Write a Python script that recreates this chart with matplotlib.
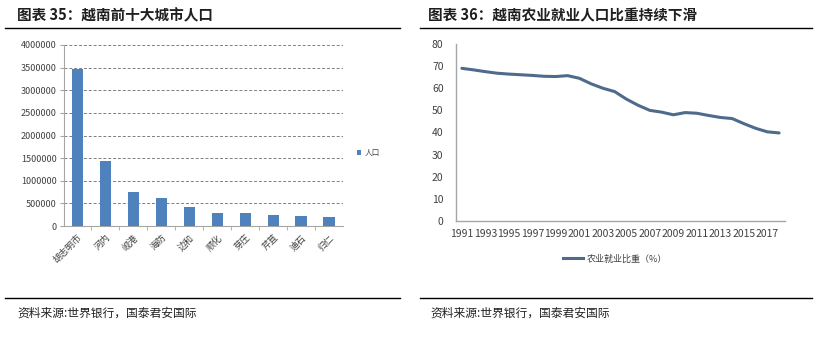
"""
越南城市人口 + 农业就业比重 双图
"""

import matplotlib
matplotlib.use("Agg")
import matplotlib.pyplot as plt
from matplotlib.lines import Line2D
from matplotlib.patches import Patch
from matplotlib.ticker import StrMethodFormatter

plt.rcParams["font.family"] = ["Noto Sans CJK SC", "DejaVu Sans"]

# --- 数据 ---
cities = ["胡志明市", "河内", "岘港", "海防", "边和", "顺化", "芽庄", "芹苴", "迪石", "归仁"]
city_pop = [3470000, 1440000, 760000, 610000, 410000, 280000, 280000, 250000, 220000, 200000]

years = list(range(1991, 2019))
agri_share = [69.0, 68.3, 67.5, 66.8, 66.4, 66.1, 65.8, 65.4, 65.3, 65.7,
              64.5, 62.0, 60.0, 58.5, 55.1, 52.3, 50.0, 49.2, 48.0, 49.0,
              48.7, 47.7, 46.8, 46.3, 44.0, 41.9, 40.3, 39.8]

BAR_COLOR = "#4F81BD"
LINE_COLOR = "#4E6B8C"
TICK_COLOR = "#404040"
AXIS_COLOR = "#A6A6A6"

fig = plt.figure(figsize=(8.3, 3.47), dpi=100)

# --- 标题与上下分隔线 ---
fig.text(17 / 830, 1 - 15 / 347, "图表 35：越南前十大城市人口", fontsize=10.5,
         fontweight="bold", color="#1F1F1F", va="center", ha="left")
fig.text(428 / 830, 1 - 15 / 347, "图表 36：越南农业就业人口比重持续下滑", fontsize=10.5,
         fontweight="bold", color="#1F1F1F", va="center", ha="left")
for x0, x1 in [(5, 400), (420, 812)]:
    for y in (28, 298):
        fig.add_artist(Line2D([x0 / 830, x1 / 830], [1 - y / 347, 1 - y / 347],
                              color="black", linewidth=1.0))
for x0 in (17, 430):
    fig.text(x0 / 830, 1 - 313 / 347, "资料来源:世界银行，国泰君安国际", fontsize=8.5,
             style="italic", color="#222222", va="center", ha="left")

# --- 左图：城市人口柱状图 ---
ax1 = fig.add_axes([63.5 / 830, 1 - 226 / 347, (343 - 63.5) / 830, (226 - 45) / 347])
xs = list(range(len(cities)))
ax1.bar(xs, city_pop, width=0.4, color=BAR_COLOR, zorder=3)
ax1.set_xlim(-0.5, len(cities) - 0.5)
ax1.set_ylim(0, 4000000)
ax1.set_yticks(range(0, 4000001, 500000))
ax1.yaxis.set_major_formatter(StrMethodFormatter("{x:.0f}"))
ax1.yaxis.grid(True, linestyle=(0, (3, 2)), color="#7F7F7F", linewidth=0.7, zorder=0)
ax1.set_xticks(xs)
ax1.set_xticklabels(cities, rotation=45, ha="right", rotation_mode="anchor", fontsize=6.5)
ax1.set_xticks([i + 0.5 for i in xs[:-1]], minor=True)
ax1.tick_params(axis="x", which="major", length=0, pad=5, colors=TICK_COLOR)
ax1.tick_params(axis="x", which="minor", length=3, color=AXIS_COLOR)
ax1.tick_params(axis="y", length=3, color=AXIS_COLOR, labelsize=6.5, labelcolor=TICK_COLOR, pad=2)
for side in ("top", "right"):
    ax1.spines[side].set_visible(False)
for side in ("left", "bottom"):
    ax1.spines[side].set_color(AXIS_COLOR)
    ax1.spines[side].set_linewidth(0.8)

fig.legend(handles=[Patch(facecolor=BAR_COLOR, label="人口")],
           loc="center left", bbox_to_anchor=(350 / 830, 1 - 153 / 347),
           frameon=False, fontsize=5.5, handlelength=0.6, handleheight=0.6,
           handletextpad=0.4, labelcolor=TICK_COLOR)

# --- 右图：农业就业比重折线 ---
ax2 = fig.add_axes([456 / 830, 1 - 221 / 347, (785 - 456) / 830, (221 - 44) / 347])
yi = list(range(len(years)))
ax2.plot(yi, agri_share, color=LINE_COLOR, linewidth=2.2, solid_capstyle="round")
ax2.set_xlim(-0.5, len(years) - 0.5)
ax2.set_ylim(0, 80)
ax2.set_yticks(range(0, 81, 10))
ax2.set_xticks(yi[::2])
ax2.set_xticklabels([str(y) for y in years[::2]])
ax2.tick_params(axis="x", length=0, pad=6, labelsize=7.5, labelcolor=TICK_COLOR)
ax2.tick_params(axis="y", length=0, pad=9, labelsize=7.5, labelcolor=TICK_COLOR)
for side in ("top", "right"):
    ax2.spines[side].set_visible(False)
for side in ("left", "bottom"):
    ax2.spines[side].set_color(AXIS_COLOR)
    ax2.spines[side].set_linewidth(1.0)

fig.legend(handles=[Line2D([0], [0], color=LINE_COLOR, linewidth=2.2, label="农业就业比重（%）")],
           loc="center", bbox_to_anchor=(615 / 830, 1 - 259 / 347),
           frameon=False, fontsize=6.5, handlelength=2.2, handletextpad=0.4,
           labelcolor=TICK_COLOR)

fig.savefig("out.png", dpi=100)
